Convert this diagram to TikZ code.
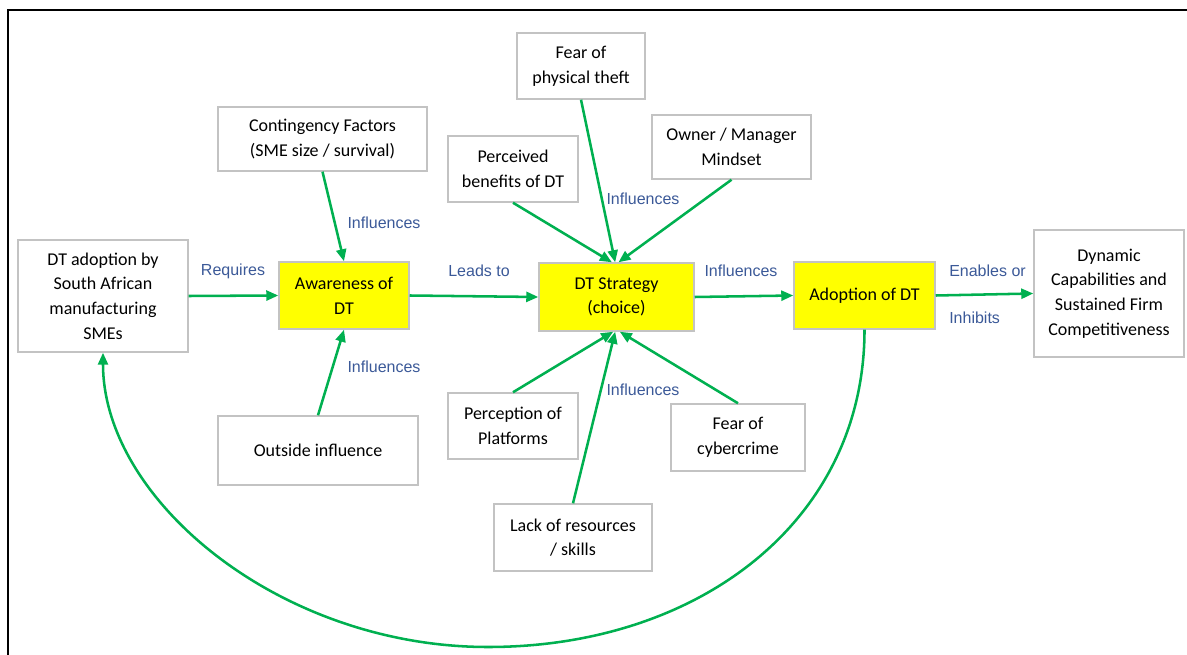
\documentclass[tikz,border=0pt]{standalone}
\usepackage{fontspec}
\setmainfont{Carlito}
\newfontfamily\labelfont{Liberation Sans}
\usetikzlibrary{arrows.meta}
\definecolor{arrowgreen}{RGB}{0,176,80}
\definecolor{labelblue}{RGB}{59,89,152}
\definecolor{boxgray}{RGB}{195,195,195}
\definecolor{boxyellow}{RGB}{255,255,0}
\tikzset{
  box/.style={draw=boxgray, line width=1.1pt, fill=white, rectangle, align=center, inner sep=0pt,
    font=\fontsize{13.5}{18.5}\selectfont},
  keybox/.style={box, fill=boxyellow},
  conn/.style={draw=arrowgreen, line width=1.9pt, -{Triangle[length=9pt,width=7.5pt]}},
  lbl/.style={text=labelblue, inner sep=0pt, font=\labelfont\fontsize{12}{14}\selectfont},
}
\begin{document}
\begin{tikzpicture}[x=0.75pt,y=-0.75pt]
\path[use as bounding box] (0,0) rectangle (1187,655);
% frame (top and left edges)
\coordinate (fbl) at (8,655);
\coordinate (ftl) at (8,10);
\coordinate (ftr) at (1187,10);
\draw[line width=1.4pt] (fbl) -- (ftl) -- (ftr);

% boxes
\node[box, minimum width=0.75pt*170, minimum height=0.75pt*112] (dta) at (103,296) {DT adoption by\\South African\\manufacturing\\SMEs};
\node[box, minimum width=0.75pt*209, minimum height=0.75pt*64] (cont) at (322.5,139) {Contingency Factors\\(SME size / survival)};
\node[keybox, minimum width=0.75pt*130, minimum height=0.75pt*67] (aware) at (344,295.5) {Awareness of\\DT};
\node[box, minimum width=0.75pt*200, minimum height=0.75pt*69] (out) at (318,450.5) {Outside influence};
\node[keybox, minimum width=0.75pt*155, minimum height=0.75pt*68] (strat) at (616.5,297) {DT Strategy\\(choice)};
\node[box, minimum width=0.75pt*128, minimum height=0.75pt*66] (theft) at (581,66) {Fear of\\physical theft};
\node[box, minimum width=0.75pt*130, minimum height=0.75pt*66] (perc) at (513,169) {Perceived\\benefits of DT};
\node[box, minimum width=0.75pt*159, minimum height=0.75pt*64] (owner) at (731.5,147) {Owner / Manager\\Mindset};
\node[box, minimum width=0.75pt*130, minimum height=0.75pt*66] (plat) at (513,426) {Perception of\\Platforms};
\node[box, minimum width=0.75pt*134, minimum height=0.75pt*67] (cyber) at (738,437.5) {Fear of\\cybercrime};
\node[box, minimum width=0.75pt*158, minimum height=0.75pt*67] (lack) at (573,537.5) {Lack of resources\\/ skills};
\node[keybox, minimum width=0.75pt*141, minimum height=0.75pt*67] (adopt) at (864.5,295.5) {Adoption of DT};
\node[box, minimum width=0.75pt*150, minimum height=0.75pt*127] (dyn) at (1109,293.5) {Dynamic\\Capabilities and\\Sustained Firm\\Competitiveness};

% connectors
\draw[conn] (dta.east) -- (aware.west);
\draw[conn] (cont.south) -- (aware.north);
\draw[conn] (out.north) -- (aware.south);
\draw[conn] (aware.east) -- (strat.west);
\draw[conn] (perc.south) -- ([xshift=-3.5pt]strat.north);
\draw[conn] (theft.south) -- ([xshift=-1pt]strat.north);
\draw[conn] (owner.south) -- ([xshift=1.5pt]strat.north);
\draw[conn] (plat.north) -- ([xshift=-2.5pt]strat.south);
\draw[conn] (cyber.north) -- ([xshift=2.5pt]strat.south);
\draw[conn] (lack.north) -- ([xshift=-1pt]strat.south);
\draw[conn] (strat.east) -- (adopt.west);
\draw[conn] (adopt.east) -- (dyn.west);
\coordinate (loopbottom) at (488,647);
\draw[conn] (adopt.south) .. controls (864.5,520) and (700,647) .. (loopbottom)
  .. controls (280,647) and (103,500) .. (dta.south);

% connector labels
\node[lbl] (lreq) at (233,271) {Requires};
\node[lbl] (linf1) at (384,223) {Influences};
\node[lbl] (linf2) at (384,367) {Influences};
\node[lbl] (llead) at (479,271) {Leads to};
\node[lbl] (linf3) at (643,199) {Influences};
\node[lbl] (linf4) at (741,271) {Influences};
\node[lbl] (linf5) at (643,390) {Influences};
\node[lbl, anchor=west] (lenable) at (949,271) {Enables or};
\node[lbl, anchor=west] (linhib) at (949,318) {Inhibits};
\end{tikzpicture}
\end{document}
